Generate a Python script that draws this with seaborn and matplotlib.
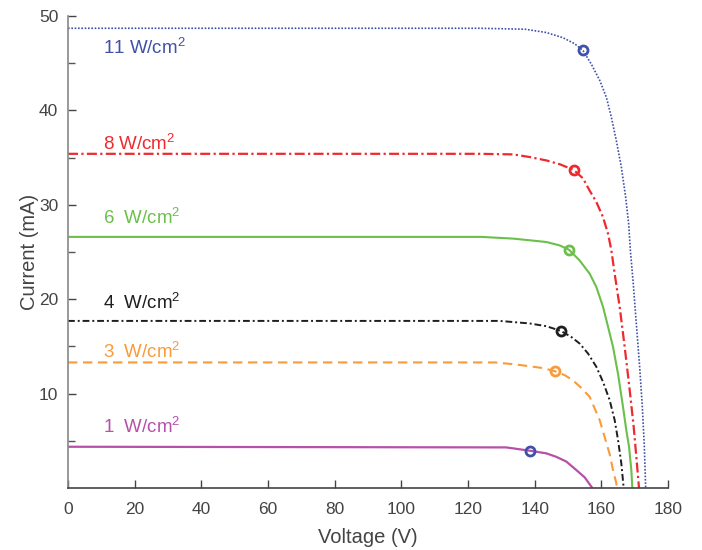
import seaborn as sns
import matplotlib.pyplot as plt
import pandas as pd

# irradiance levels and the points
levels = ["11 W/cm$^2$", "8 W/cm$^2$", "6  W/cm$^2$", "4  W/cm$^2$", "3  W/cm$^2$", "1  W/cm$^2$"]

v_11 = [0, 117.5, 123.5, 137.1, 143.5, 148.5, 152.0, 154.5, 157.0, 159.5, 161.5, 163.0, 164.5,
        166.0, 167.3, 168.2, 168.7, 169.5, 170.5, 171.5, 172.3, 172.9, 173.3]
i_11 = [48.7, 48.7, 48.7, 48.6, 48.25, 47.7, 47.06, 46.35, 44.9, 43.2, 41.4, 39.3, 36.8,
        34.0, 30.8, 28.0, 25.2, 22.0, 17.4, 12.8, 8.6, 4.4, 0.0]

v_8 = [0, 123.5, 133.5, 138.5, 143.5, 147.5, 151.7, 154.5, 156.5, 158.5, 160.5, 162.0, 163.0,
       164.0, 165.5, 167.0, 168.5, 169.7, 170.5, 171.3]
i_8 = [35.4, 35.4, 35.34, 35.06, 34.7, 34.3, 33.7, 32.8, 31.5, 30.3, 28.7, 26.95, 25.2,
       22.7, 19.2, 14.96, 10.4, 6.5, 3.3, 0.0]

v_6 = [0, 124.0, 133.5, 138.5, 143.5, 147.5, 150.3, 153.5, 156.5, 158.5, 160.5, 162.0, 163.5,
       165.0, 166.5, 167.5, 168.3, 169.0, 169.3]
i_6 = [26.6, 26.6, 26.42, 26.24, 26.06, 25.7, 25.24, 24.1, 22.7, 21.3, 19.2, 17.1, 14.96,
       12.1, 8.6, 6.1, 4.4, 1.9, 0.0]

v_4 = [0, 129.5, 138.5, 143.5, 147.8, 151.0, 153.5, 156.0, 158.5, 160.5, 162.5, 164.0, 165.0,
       166.0, 166.7]
i_4 = [17.7, 17.7, 17.43, 17.14, 16.65, 16.0, 15.3, 14.25, 12.84, 11.25, 9.3, 7.2, 5.1,
       2.6, 0.0]

v_3 = [0, 128.0, 133.5, 138.5, 142.5, 146.0, 149.0, 151.5, 154.0, 156.5, 158.0, 159.5, 161.0,
       162.5, 163.5, 164.5, 164.7]
i_3 = [13.3, 13.3, 13.12, 12.9, 12.7, 12.38, 11.96, 11.4, 10.6, 9.66, 8.43, 7.2, 5.4,
       3.6, 1.9, 0.5, 0.0]

v_1 = [0, 131.5, 138.5, 143.5, 146.5, 149.5, 152.5, 155.0, 157.3]
i_1 = [4.37, 4.3, 3.95, 3.67, 3.3, 2.8, 1.9, 1.13, 0.0]

# maximum power points
mpp_v = [154.5, 151.7, 150.3, 147.8, 146.0, 138.5]
mpp_i = [46.35, 33.7, 25.24, 16.65, 12.38, 3.95]

label_y = [46.7, 36.5, 28.6, 19.6, 14.5, 6.5]

colors = ["#3F51A8", "#EE2A2E", "#6CBF4A", "#1E1E1E", "#F89B3A", "#B650A8"]
marker_colors = ["#3F51A8", "#EE2A2E", "#6CBF4A", "#1E1E1E", "#F89B3A", "#3F51A8"]
styles = [(0, (1, 1)), (0, (4.5, 1.5, 1, 1.5)), "-", (0, (3.5, 1.5, 1, 1.5)), (0, (4.5, 2.7)), "-"]
widths = [1.2, 1.6, 1.5, 1.4, 1.5, 1.6]

curves = [(v_11, i_11), (v_8, i_8), (v_6, i_6), (v_4, i_4), (v_3, i_3), (v_1, i_1)]

sns.set_style("white")
plt.rcParams["font.family"] = ["Liberation Sans", "DejaVu Sans"]
plt.rcParams["mathtext.fontset"] = "custom"
plt.rcParams["mathtext.rm"] = "Liberation Sans"

fig = plt.figure(figsize=(7.02, 5.5), dpi=100)
ax = fig.add_axes([68 / 702, 1 - 488 / 550, 600 / 702, 472 / 550])

for k, (vv, ii) in enumerate(curves):
    df = pd.DataFrame({"Voltage": vv, "Current": ii})
    sns.lineplot(data=df, x="Voltage", y="Current", ax=ax, color=colors[k],
                 linewidth=widths[k], linestyle=styles[k], sort=False)
    ax.text(10.5, label_y[k], levels[k], color=colors[k], fontsize=13.5, va="center")

for k in range(6):
    ax.plot(mpp_v[k], mpp_i[k], "o", ms=6.5, mfc="none", mec=marker_colors[k], mew=2)

ax.set_xlim(0, 180)
ax.set_ylim(0, 50)
ax.set_xticks(range(0, 181, 20))
ax.set_yticks([10, 20, 30, 40, 50])
ax.set_yticks(range(5, 50, 10), minor=True)
ax.tick_params(axis="both", which="both", bottom=True, left=True, direction="in")
ax.tick_params(axis="both", labelsize=12.5, colors="#444444", length=6, width=1)
ax.tick_params(axis="y", which="minor", length=5, width=1, color="#555555")
ax.tick_params(axis="x", pad=10)
ax.tick_params(axis="y", pad=7)
for s in ["top", "right"]:
    ax.spines[s].set_visible(False)
ax.spines["left"].set_color("#888888")
ax.spines["bottom"].set_color("#444444")
ax.spines["left"].set_linewidth(1.2)
ax.spines["bottom"].set_linewidth(1.2)
ax.set_xlabel("Voltage (V)", fontsize=14.5, color="#444444", labelpad=8)
ax.set_ylabel("Current (mA)", fontsize=14.5, color="#444444", labelpad=0)

fig.savefig("out.png", dpi=100)
